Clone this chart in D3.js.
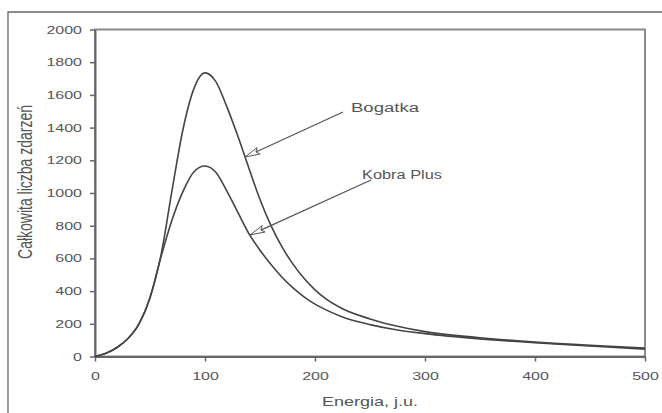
<!DOCTYPE html>
<html><head><meta charset="utf-8">
<script src="https://cdn.jsdelivr.net/npm/d3@7"></script>
<style>body{margin:0;background:#fff;} svg{display:block;font-family:Arial,"Liberation Sans",sans-serif;}</style>
</head><body>
<svg id="c" width="662" height="413"></svg>
<script>
const energy = [0,10,20,30,40,50,60,70,80,90,100,110,120,130,140,150,160,170,180,190,200,210,225,250,275,300,350,400,450,500];
const bogatka = [0,20,55,110,200,360,620,1015,1390,1640,1735,1680,1525,1345,1150,960,800,670,565,478,408,352,292,230,185,152,115,88,68,52];
const kobra   = [0,20,55,110,200,360,610,835,1010,1130,1165,1125,1010,880,750,650,562,485,420,365,320,285,242,195,162,140,108,84,64,45];
const xTicks = [0,100,200,300,400,500];
const yTicks = [0,200,400,600,800,1000,1200,1400,1600,1800,2000];
const labels = [
  {name:"Bogatka", tx:351, ty:108, w:68, from:[343,112], to:[245,157]},
  {name:"Kobra Plus", tx:362, ty:175, w:80, from:[371,180], to:[250,235]}
];
const xTitle = "Energia, j.u.";
const yTitle = "Całkowita liczba zdarzeń";

const svg = d3.select("#c");
const L=95, R=645, T=29.5, B=356.5;
const x = d3.scaleLinear().domain([0,500]).range([L,R]);
const y = d3.scaleLinear().domain([0,2000]).range([B,T]);
const grey="#666", txt="#555";

// outer frame
svg.append("path").attr("d","M8,413V12H662").attr("fill","none").attr("stroke","#666").attr("stroke-width",1.3);

// plot box
svg.append("rect").attr("x",L).attr("y",T).attr("width",R-L).attr("height",B-T)
  .attr("fill","none").attr("stroke","#8a8a8a").attr("stroke-width",2);

// axes
const ax = svg.append("g").attr("transform",`translate(0,${B})`)
  .call(d3.axisBottom(x).tickValues(xTicks).tickFormat(d3.format("d")).tickSize(5).tickSizeOuter(0));
const ay = svg.append("g").attr("transform",`translate(${L},0)`)
  .call(d3.axisLeft(y).tickValues(yTicks).tickFormat(d3.format("d")).tickSize(5).tickSizeOuter(0));
[ax,ay].forEach(g=>{
  g.select(".domain").attr("stroke",grey).attr("stroke-width",2);
  g.selectAll(".tick line").attr("stroke",grey).attr("stroke-width",1.5);
  g.selectAll(".tick text").attr("fill",txt).attr("font-size",10)
   .attr("font-family","Arial,'Liberation Sans',sans-serif");
});
ay.selectAll(".tick text").attr("x",0).attr("dy","0.35em")
  .attr("transform","translate(-13,0) scale(1.6,1)");
ax.selectAll(".tick text").attr("y",0).attr("dy","0.35em")
  .attr("transform","translate(0,19.5) scale(1.6,1)");

// curves
const line = d3.line().x((d,i)=>x(energy[i])).y(d=>y(d)).curve(d3.curveMonotoneX);
[bogatka,kobra].forEach(s=>{
  svg.append("path").attr("d",line(s)).attr("fill","none")
    .attr("stroke","#444").attr("stroke-width",1.6);
});

// annotations
labels.forEach(l=>{
  svg.append("text").attr("x",l.tx).attr("y",l.ty).attr("dy","0.35em")
    .attr("font-size",12).attr("fill",txt)
    .attr("textLength",l.w).attr("lengthAdjust","spacingAndGlyphs").text(l.name);
  const [x1,y1]=l.from,[x2,y2]=l.to;
  const ang=Math.atan2(y1-y2,x1-x2);
  const hl=15, hw=3.5;
  const ux=Math.cos(ang), uy=Math.sin(ang), px=-uy, py=ux;
  const p1=[x2+ux*hl+px*hw, y2+uy*hl+py*hw];
  const p2=[x2+ux*hl-px*hw, y2+uy*hl-py*hw];
  const pm=[x2+ux*hl*0.8, y2+uy*hl*0.8];
  svg.append("line").attr("x1",x1).attr("y1",y1).attr("x2",x2).attr("y2",y2)
    .attr("stroke","#555").attr("stroke-width",1.3);
  svg.append("path").attr("d",`M${x2},${y2}L${p1}L${pm}L${p2}Z`)
    .attr("fill","#fff").attr("stroke","#555").attr("stroke-width",1);
});

// axis titles
svg.append("text").attr("transform",`translate(${(L+R)/2},402) scale(1.5,1)`)
  .attr("text-anchor","middle").attr("dy","0.35em").attr("font-size",12).attr("fill",txt).text(xTitle);
svg.append("text").attr("transform","translate(25,182) scale(1.4,1) rotate(-90)")
  .attr("text-anchor","middle").attr("dy","0.35em").attr("font-size",14).attr("fill",txt).text(yTitle);
</script>
</body></html>
